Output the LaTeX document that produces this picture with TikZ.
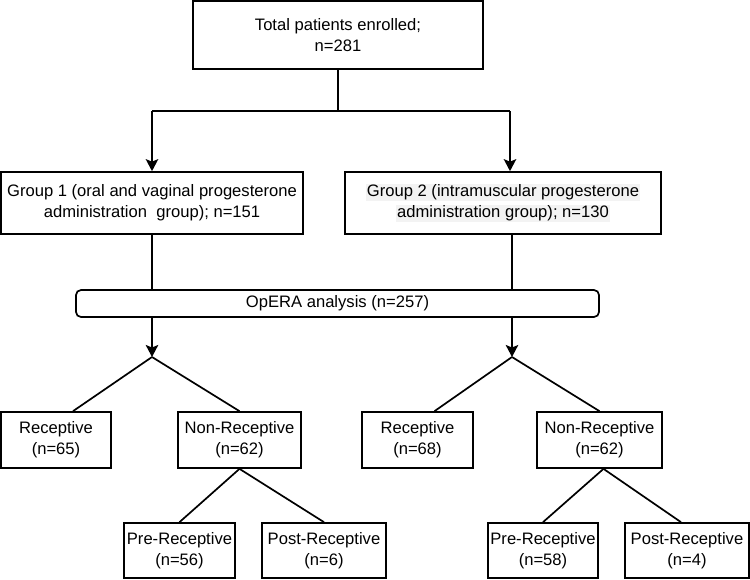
\documentclass[tikz,border=0pt]{standalone}
\usepackage{fontspec}
\setmainfont{Liberation Sans}
\usetikzlibrary{arrows.meta,calc}
\definecolor{hl}{HTML}{F3F3F3}
\begin{document}
\begin{tikzpicture}[x=1pt,y=-1pt,
  box/.style={draw=black, line width=1.7pt, fill=white, inner sep=0pt, align=center,
    font=\fontsize{16.6}{21}\selectfont},
  link/.style={line width=1.7pt, black},
  arr/.style={link, -{Stealth[length=12pt,width=12.5pt,inset=2.5pt]}}]
\useasboundingbox (0,0) rectangle (750,579);
% boxes
\node[box, minimum width=290pt, minimum height=68pt] (top) at (338,35) {Total patients enrolled;\\n=281};
\node[box, minimum width=302pt, minimum height=62pt] (g1) at (152,203) {Group 1 (oral and vaginal progesterone\\administration\ \ group); n=151};
\node[box, minimum width=316pt, minimum height=62pt] (g2) at (503,203)
  {\setlength{\fboxsep}{1pt}\colorbox{hl}{Group 2 (intramuscular progesterone}\\\setlength{\fboxsep}{1pt}\colorbox{hl}{administration group); n=130}};
\node[box, rounded corners=5pt, minimum width=523pt, minimum height=27pt] (opera) at (337.5,303.5) {OpERA analysis (n=257)};
\node[box, minimum width=110pt, minimum height=56pt] (recL) at (56,440) {Receptive\\(n=65)};
\node[box, minimum width=123pt, minimum height=56pt] (nrL) at (239.5,440) {Non-Receptive\\(n=62)};
\node[box, minimum width=111pt, minimum height=56pt] (recR) at (417.5,440) {Receptive\\(n=68)};
\node[box, minimum width=125pt, minimum height=56pt] (nrR) at (599.5,440) {Non-Receptive\\(n=62)};
\node[box, minimum width=111pt, minimum height=55pt] (preL) at (179.5,550.5) {Pre-Receptive\\(n=56)};
\node[box, minimum width=124pt, minimum height=55pt] (postL) at (324,550.5) {Post-Receptive\\(n=6)};
\node[box, minimum width=110pt, minimum height=55pt] (preR) at (543,550.5) {Pre-Receptive\\(n=58)};
\node[box, minimum width=124pt, minimum height=55pt] (postR) at (687,550.5) {Post-Receptive\\(n=4)};
% junction coordinates
\coordinate (j0) at (338,111);
\coordinate (jL) at (152,111);
\coordinate (jR) at (510,111);
\coordinate (aL) at (152,357);
\coordinate (aR) at (512,357);
% top split
\draw[link] (top.south) -- (j0);
\draw[link] (jL) -- (jR);
\draw[arr] (jL) -- (jL |- g1.north);
\draw[arr] (jR) -- (jR |- g2.north);
% groups to OpERA
\draw[link] (g1.south) -- (g1.south |- opera.north);
\draw[link] (aR |- g2.south) -- (aR |- opera.north);
\draw[arr] (aL |- opera.south) -- (aL);
\draw[arr] (aR |- opera.south) -- (aR);
% branches
\draw[link] (aL) -- ($(recL.north)+(17,0)$);
\draw[link] (aL) -- (nrL.north);
\draw[link] (aR) -- ($(recR.north)+(17,0)$);
\draw[link] (aR) -- (nrR.north);
\draw[link] (nrL.south) -- (preL.north);
\draw[link] (nrL.south) -- (postL.north);
\draw[link] ($(nrR.south)+(4,0)$) -- (preR.north);
\draw[link] ($(nrR.south)+(4,0)$) -- ($(postR.north)+(-6,0)$);
\end{tikzpicture}
\end{document}
